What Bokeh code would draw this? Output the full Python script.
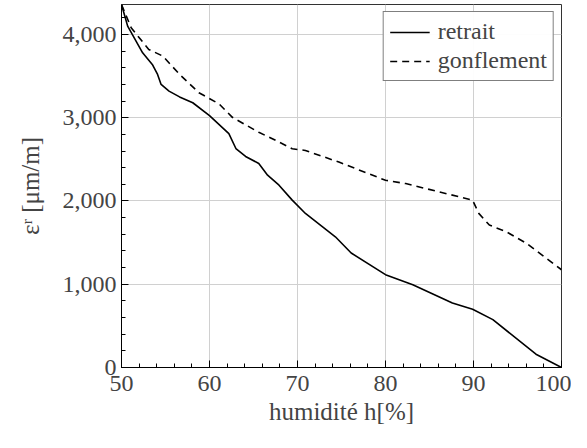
from bokeh.plotting import figure
from bokeh.models import Range1d, FixedTicker, NumeralTickFormatter, Legend, LegendItem
from bokeh.embed import file_html
from bokeh.resources import INLINE

# Data
retrait_h = [50, 50.7, 52.4, 53.5, 54.1, 54.5, 55.4, 56.6, 58.1, 60, 62.2, 63, 64.1, 65.6, 66.6, 67.9, 69.4,
             70.9, 74.3, 76.1, 80, 83.1, 87.6, 89.9, 92.2, 97.1, 100]
retrait_eps = [4360, 4100, 3780, 3640, 3520, 3400, 3320, 3250, 3180, 3025, 2810, 2630, 2535, 2450, 2310, 2190, 2010,
               1850, 1570, 1375, 1115, 995, 775, 700, 575, 160, 0]

gonflement_h = [50, 51.1, 53.1, 54.7, 56.6, 58.8, 61.1, 62.6, 65.6, 67.2, 69.4, 70.9, 74.7, 80, 82.3,
                89.9, 90.6, 91.8, 93.7, 96, 100]
gonflement_eps = [4360, 4080, 3820, 3740, 3520, 3300, 3165, 3005, 2825, 2745, 2627, 2607, 2467, 2249, 2209,
                  2010, 1851, 1711, 1632, 1493, 1174]

x_ticks = [50, 60, 70, 80, 90, 100]
x_minor = [v for v in range(50, 101, 2)]
y_ticks = [0, 1000, 2000, 3000, 4000]
y_minor = [v for v in range(0, 4400, 200)]

FONT = "Liberation Serif"

p = figure(width=571, height=432, x_range=Range1d(50, 100), y_range=Range1d(0, 4360),
           output_backend="svg", toolbar_location=None,
           min_border_left=121, min_border_right=10, min_border_top=4, min_border_bottom=65)

p.outline_line_color = "#333333"

p.xaxis.ticker = FixedTicker(ticks=x_ticks, minor_ticks=x_minor)
p.yaxis.ticker = FixedTicker(ticks=y_ticks, minor_ticks=y_minor)
p.yaxis.formatter = NumeralTickFormatter(format="0,0")

p.axis.major_tick_in = 7
p.axis.major_tick_out = 0
p.axis.minor_tick_in = 4
p.axis.minor_tick_out = 0

p.xaxis.major_label_text_font = FONT
p.xaxis.major_label_text_font_size = "24px"
p.yaxis.major_label_text_font = FONT
p.yaxis.major_label_text_font_size = "24px"

p.xaxis.axis_label = "humidité h[%]"
p.xaxis.axis_label_text_font = FONT
p.xaxis.axis_label_text_font_size = "25px"
p.xaxis.axis_label_text_font_style = "normal"
p.xaxis.major_label_standoff = 8
p.xaxis.axis_label_standoff = 4

p.yaxis.axis_label = "εʳ [μm/m]"
p.yaxis.axis_label_text_font = FONT
p.yaxis.axis_label_text_font_size = "25px"
p.yaxis.axis_label_text_font_style = "normal"
p.yaxis.major_label_standoff = 5
p.yaxis.axis_label_standoff = 16

p.xgrid.grid_line_color = "#d0d0d0"
p.ygrid.grid_line_color = "#d0d0d0"
p.xgrid.ticker = FixedTicker(ticks=x_ticks)
p.ygrid.ticker = FixedTicker(ticks=y_ticks)

r1 = p.line(retrait_h, retrait_eps, line_color="black", line_width=1.6)
r2 = p.line(gonflement_h, gonflement_eps, line_color="black", line_width=1.6, line_dash="7 5")

legend = Legend(items=[LegendItem(label="retrait", renderers=[r1]),
                       LegendItem(label="gonflement", renderers=[r2])],
                location="top_right")
legend.label_text_font = FONT
legend.label_text_font_size = "24px"
legend.glyph_width = 40
legend.border_line_color = "black"
legend.margin = 7
legend.padding = 6
legend.spacing = 2
legend.label_standoff = 8
p.add_layout(legend)

open("out.html", "w").write(file_html(p, INLINE))
